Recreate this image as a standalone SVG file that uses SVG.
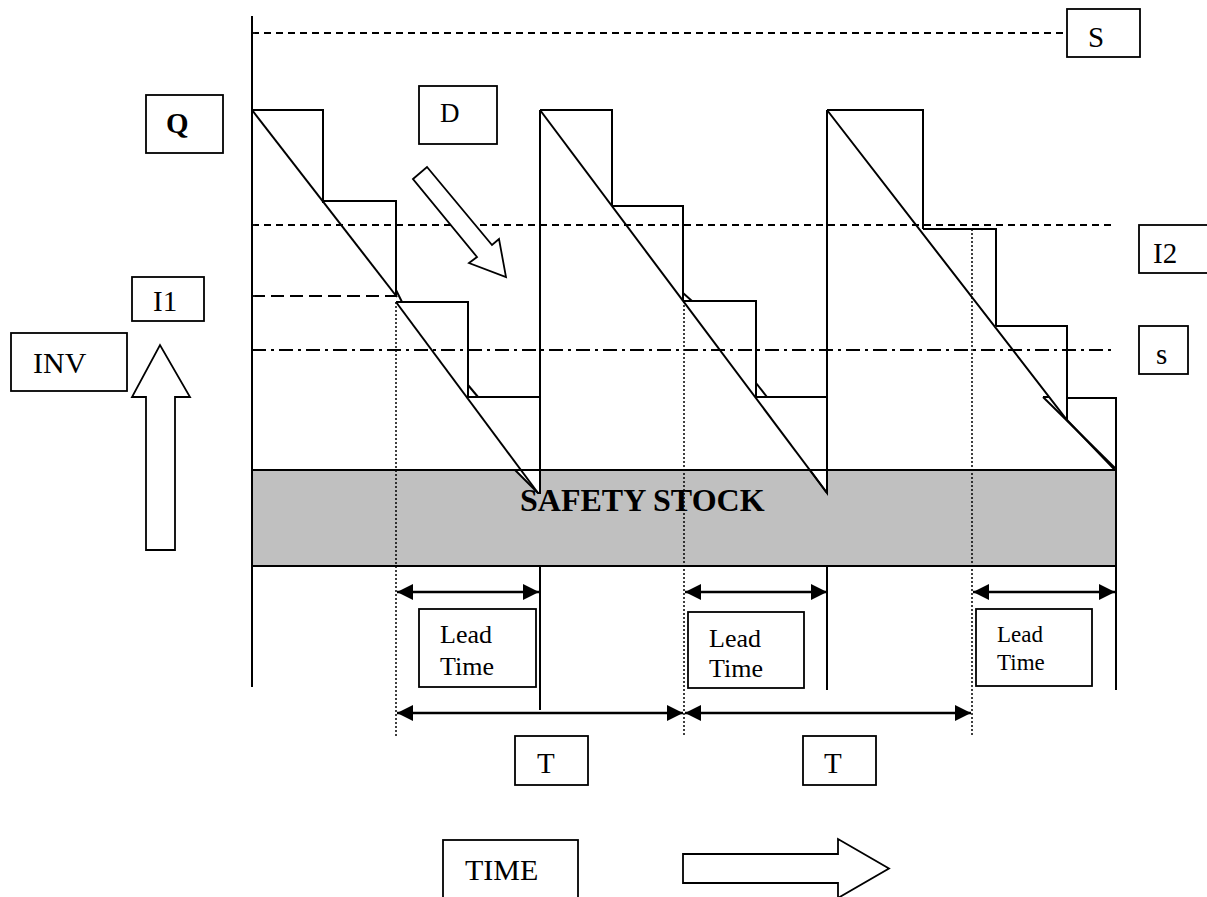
<svg xmlns="http://www.w3.org/2000/svg" width="1207" height="897" viewBox="0 0 1207 897">
<defs>
<marker id="ah" viewBox="0 0 16 16" refX="16" refY="8" markerWidth="16" markerHeight="16" markerUnits="userSpaceOnUse" orient="auto-start-reverse">
<path d="M0,0 L16,8 L0,16 Z" fill="#000"/>
</marker>
</defs>
<style>
.ln{stroke:#000;stroke-width:2;fill:none}
.wf{stroke:#000;stroke-width:2;fill:#fff}
.box{stroke:#000;stroke-width:1.8;fill:#fff}
.dash{stroke:#000;stroke-width:1.8;stroke-dasharray:7 5;fill:none}
.dashL{stroke:#000;stroke-width:1.8;stroke-dasharray:13 6;fill:none}
.dashdot{stroke:#000;stroke-width:1.8;stroke-dasharray:14 5 3 5;fill:none}
.dot{stroke:#000;stroke-width:1.5;stroke-dasharray:2 2;fill:none}
.arr{stroke:#000;stroke-width:2.5;fill:none;marker-start:url(#ah);marker-end:url(#ah)}
.t{font-family:"Liberation Serif","Times New Roman",serif;font-size:29px;fill:#000}
.lt{font-family:"Liberation Serif","Times New Roman",serif;font-size:26px;fill:#000}
.b{font-weight:bold}
</style>
<rect width="1207" height="897" fill="#fff"/>

<g id="reference-lines">
<line class="dash" x1="252" y1="33" x2="1067" y2="33"/>
<line class="dash" x1="252" y1="225" x2="1113" y2="225"/>
<line class="dashL" x1="252" y1="296" x2="396" y2="296"/>
<line class="dashdot" x1="252" y1="350" x2="1113" y2="350"/>
</g>

<g id="safety-stock">
<rect x="252" y="470" width="864" height="96" fill="#c0c0c0" stroke="#000" stroke-width="2"/>
<text class="t b" x="520" y="511" style="font-size:32px">SAFETY STOCK</text>
</g>

<g id="cycle1">
<polyline class="ln" points="252,110 323,110 323,203"/>
<polyline class="ln" points="323,201 396,201 396,297"/>
<polyline class="ln" points="396,302 468,302 468,397"/>
<polyline class="ln" points="468,397 540,397"/>
<line class="ln" x1="252" y1="110" x2="397" y2="297"/>
<polygon class="wf" points="515,470 540,470 540,493 538,493"/>
<line class="ln" x1="396" y1="302" x2="538" y2="493"/>
<line class="ln" x1="468" y1="385" x2="478" y2="397"/>
<line class="ln" x1="396" y1="290" x2="402" y2="302"/>
</g>

<g id="cycle2">
<line class="ln" x1="540" y1="110" x2="540" y2="493"/>
<polyline class="ln" points="540,110 612,110 612,206"/>
<polyline class="ln" points="612,206 683,206 683,301"/>
<polyline class="ln" points="683,301 756,301 756,397"/>
<polyline class="ln" points="756,397 827,397"/>
<polygon class="wf" points="810,470 827,470 827,493"/>
<line class="ln" x1="540" y1="110" x2="827" y2="493"/>
<line class="ln" x1="683" y1="293" x2="692" y2="301"/>
<line class="ln" x1="756" y1="383" x2="767" y2="397"/>
</g>

<g id="cycle3">
<line class="ln" x1="827" y1="110" x2="827" y2="493"/>
<polyline class="ln" points="827,110 923,110 923,229"/>
<polyline class="ln" points="923,229 996,229 996,326"/>
<polyline class="ln" points="996,326 1067,326 1067,420"/>
<polyline class="ln" points="1067,398 1116,398 1116,690"/>
<polyline class="ln" points="827,110 1067,420 1114,469"/>
<line class="ln" x1="1043" y1="397" x2="1116" y2="469"/>
<line class="ln" x1="1043" y1="397" x2="1049" y2="397"/>
</g>

<g id="axes">
<line class="ln" x1="252" y1="16" x2="252" y2="687"/>
<line class="ln" x1="540" y1="566" x2="540" y2="710"/>
<line class="ln" x1="827" y1="566" x2="827" y2="690"/>
</g>

<g id="connectors">
<line class="dot" x1="396" y1="302" x2="396" y2="736"/>
<line class="dot" x1="684" y1="301" x2="684" y2="736"/>
<line class="dot" x1="972" y1="229" x2="972" y2="736"/>
<line class="arr" x1="397" y1="592" x2="539" y2="592"/>
<line class="arr" x1="685" y1="592" x2="827" y2="592"/>
<line class="arr" x1="973" y1="592" x2="1115" y2="592"/>
<line class="arr" x1="397" y1="713" x2="683" y2="713"/>
<line class="arr" x1="685" y1="713" x2="971" y2="713"/>
</g>

<g id="node-S"><rect class="box" x="1067" y="9" width="73" height="48"/><text class="t" x="1088" y="47">S</text></g>
<g id="node-Q"><rect class="box" x="146" y="95" width="77" height="58"/><text class="t b" x="166" y="133">Q</text></g>
<g id="node-D"><rect class="box" x="419" y="86" width="78" height="58"/><text class="t" x="440" y="122" style="font-size:27px">D</text></g>
<g id="node-D-arrow"><polygon class="box" points="413,179 427,167 492,245 499,239 506,277 469,263 477,257"/></g>
<g id="node-I1"><rect class="box" x="132" y="277" width="72" height="44"/><text class="t" x="153" y="311">I1</text></g>
<g id="node-INV"><rect class="box" x="11" y="333" width="116" height="58"/><text class="t" x="33" y="373" style="font-size:30px">INV</text></g>
<g id="node-INV-arrow"><polygon class="box" points="146,550 146,397 132,397 160,345 190,397 175,397 175,550"/></g>
<g id="node-I2"><rect class="box" x="1139" y="225" width="72" height="48"/><text class="t" x="1153" y="263">I2</text></g>
<g id="node-s"><rect class="box" x="1139" y="326" width="49" height="48"/><text class="t" x="1156" y="364">s</text></g>
<g id="node-LT1"><rect class="box" x="419" y="609" width="117" height="78"/><text class="lt" x="440" y="643">Lead</text><text class="lt" x="440" y="675">Time</text></g>
<g id="node-LT2"><rect class="box" x="688" y="612" width="116" height="76"/><text class="lt" x="709" y="647">Lead</text><text class="lt" x="709" y="677">Time</text></g>
<g id="node-LT3"><rect class="box" x="976" y="609" width="116" height="77"/><text class="lt" x="997" y="642" style="font-size:23px">Lead</text><text class="lt" x="997" y="670" style="font-size:23px">Time</text></g>
<g id="node-T1"><rect class="box" x="515" y="736" width="73" height="49"/><text class="t" x="537" y="773">T</text></g>
<g id="node-T2"><rect class="box" x="803" y="736" width="73" height="49"/><text class="t" x="824" y="773">T</text></g>
<g id="node-TIME"><rect class="box" x="443" y="840" width="135" height="62"/><text class="t" x="465" y="880" style="font-size:30px">TIME</text></g>
<g id="node-TIME-arrow"><polygon class="box" points="683,854 838,854 838,839 889,868.5 838,898 838,883 683,883"/></g>
</svg>
